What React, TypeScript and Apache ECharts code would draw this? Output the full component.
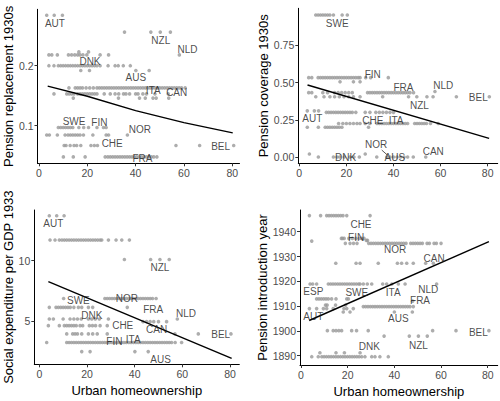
import React, { useEffect, useRef } from 'react';
import * as echarts from 'echarts';

type Row = { y: number; x: number[] };
type Lab = [string, number, number];

const xTicks = [0, 20, 40, 60, 80];
const xTitle = 'Urban homeownership';

// ---------- Panel 1: Pension replacement 1930s ----------
const replacementTicks = [0.1, 0.2];
const replacementRows: Row[] = [
  { y: 0.284, x: [3.2, 6.3, 9.7] },
  { y: 0.256, x: [35.4, 46.3, 50.2, 54.4] },
  { y: 0.218, x: [4.1, 5.3, 7.6, 12.2, 13.5, 14.8, 16, 17, 18.2, 19.8, 25.3, 28.8, 58.1] },
  { y: 0.223, x: [16.5, 20.5] },
  { y: 0.2, x: [4.1, 6.2, 8, 9, 10, 11, 12, 13, 14, 15, 16, 17, 18, 19, 20, 21, 22, 23, 24, 25.3, 28.6, 31.5, 32.8, 34.9, 37.8] },
  { y: 0.192, x: [17.3, 20.9, 40.1, 45.6] },
  { y: 0.163, x: [12.4, 15, 16, 17, 18, 19.5, 21, 22.5, 24, 25, 26, 27, 28, 29, 30, 31, 32, 33, 34, 35, 36, 37, 38, 39, 40, 41, 42, 43, 44, 45, 46, 47, 48, 49, 50, 51, 52, 53, 54, 55, 56, 57, 58, 59, 60.5] },
  { y: 0.153, x: [6.2, 11.5, 12.5, 13.5, 14.5, 16, 17, 18, 19, 20, 21, 22, 23, 24, 27, 29.5, 31.5, 33, 35, 36, 37.5, 40, 41, 43, 44.5, 48, 53.5] },
  { y: 0.146, x: [14.2, 32.9, 41.6, 44, 47.2, 48.5, 53.7] },
  { y: 0.097, x: [8, 9, 10, 11, 12, 13, 14, 16.5, 18.5, 20.5, 24, 26.7, 27.8] },
  { y: 0.0845, x: [3.2, 4.3, 7.6, 10.8, 12, 13, 14, 15, 16, 17, 18.4, 22.3, 27.8, 28.8, 36.6] },
  { y: 0.067, x: [10.4, 11.2, 12.9, 14.5, 15.6, 17.3, 21.5, 22.9, 24.2, 56.7, 66.5, 80.6] },
  { y: 0.048, x: [10.1, 14.2, 19.1, 27.4, 28.5, 29.5, 30.5, 31.5, 32.5, 33.5, 34.5, 35.5, 36.5, 37.5, 38.5, 39.5, 40.5, 41.5, 42.5, 43.5, 44.5, 45.5, 46.5, 47.5, 48.8] },
];
const replacementLabels: Lab[] = [
  ['AUT', 6.6, 0.271], ['NZL', 50.4, 0.242], ['NLD', 61.5, 0.227], ['DNK', 21.1, 0.207],
  ['AUS', 40.1, 0.181], ['ITA', 47.3, 0.158], ['CAN', 57, 0.156], ['SWE', 14.5, 0.107],
  ['FIN', 25, 0.105], ['NOR', 41.8, 0.094], ['CHE', 30.3, 0.071], ['BEL', 75.2, 0.066],
  ['FRA', 42.8, 0.046],
];
const replacementFit: [number, number][] = [[3.6, 0.166], [20, 0.149], [40, 0.125], [60, 0.105], [80.2, 0.088]];

// ---------- Panel 2: Pension coverage 1930s ----------
const coverageTicks = [0, 0.25, 0.5, 0.75];
const coverageRows: Row[] = [
  { y: 0.954, x: [7, 8, 9, 10, 11, 12, 13, 14.5, 18.2, 20.4] },
  { y: 0.533, x: [4, 5.3, 8, 9, 10, 11, 12, 13, 14, 15, 16, 17, 18, 19, 20, 21, 22, 23, 24, 25, 25.8, 28.2, 30.3, 37.8] },
  { y: 0.505, x: [17.3, 23, 25.8] },
  { y: 0.44, x: [57.6] },
  { y: 0.432, x: [4, 5.3, 10, 12, 15, 16.5, 18, 19.5, 21, 22.5, 29, 30, 31, 32, 33, 34, 35, 36, 37, 38, 39, 40, 41, 42, 43, 44, 45, 46, 47, 48.5] },
  { y: 0.405, x: [7, 10.5, 13, 15, 17, 19, 21, 23, 25.8, 35.4, 46.4, 49.9, 54.2, 56.8, 66.7, 80.7] },
  { y: 0.31, x: [3.4, 6.4, 8.2] },
  { y: 0.3, x: [11.5, 12.5, 13.5, 14.5, 15.5, 16.5, 17.5, 18.5, 19.5, 20.5, 21.5, 22.5, 24, 28, 30, 32.5, 34, 35.5, 37, 38.5, 40] },
  { y: 0.225, x: [16.7, 18.5, 20, 21.5, 23, 24.5, 25.8, 28, 30, 33, 34, 35, 36, 37, 38, 39, 40, 41, 42, 43, 44, 45, 46, 49, 50, 51, 52, 53, 54, 55.7, 59] },
  { y: 0.2, x: [3.4, 8.1, 11, 12, 13, 14, 15, 16, 17, 18.1, 29.4] },
  { y: 0.02, x: [4.3, 28] },
  { y: 0.0, x: [8.1, 14.5, 16, 17.1, 19.1, 21.5, 23.2, 25.5, 32.9, 37.1, 38.5, 40, 41.5, 43, 44.5, 46, 48.4, 53.7] },
];
const coverageLabels: Lab[] = [
  ['SWE', 16.1, 0.898], ['FIN', 31.2, 0.551], ['FRA', 44.2, 0.468], ['NLD', 61.1, 0.477],
  ['BEL', 76, 0.398], ['NZL', 51, 0.349], ['AUT', 5.5, 0.26], ['CHE', 31.2, 0.244],
  ['ITA', 41.1, 0.244], ['NOR', 32.6, 0.081], ['CAN', 56.9, 0.036], ['DNK', 19.7, -0.005],
  ['AUS', 40.6, -0.005],
];
const coverageFit: [number, number][] = [[3.5, 0.4836], [80.6, 0.1256]];
const coverageLeader: [number, number][] = [[35, 0.047], [37.4, 0.013]];

// ---------- Panel 3: Social expenditure per GDP 1933 ----------
const socialTicks = [5, 10];
const socialRows: Row[] = [
  { y: 13.71, x: [4.2, 7.3, 10.4] },
  { y: 11.7, x: [4.5, 6.6, 8.4, 9.5, 10.5, 11.5, 12.5, 13.5, 14.5, 15.5, 16.5, 17.5, 18.5, 19.5, 20.5, 21.5, 22.5, 23.5, 24.5, 25.5, 26.2, 29, 32.2, 34.6, 37.8] },
  { y: 10.1, x: [35.7, 46.7, 50.6, 54.5] },
  { y: 6.88, x: [10.2, 27.5, 28.5, 29.5, 30.5, 31.5, 32.5, 33.5, 34.5, 35.5, 36.5, 37.5, 38.5, 39.5, 40.5, 41.5, 42.5, 43.5, 44.5, 45.5, 46.5, 47.5, 49] },
  { y: 6.15, x: [4.2, 7, 8, 9, 10, 11, 12, 13, 14.5, 16.4, 17.8, 20.6, 22.4, 36.9] },
  { y: 5.19, x: [4.2, 5.9, 10, 12.9, 14.5, 16, 17.6, 20.6, 22, 23.5, 25.2, 29, 57.9] },
  { y: 4.97, x: [43.5, 45, 46.5, 48, 50, 53.4] },
  { y: 4.64, x: [3.8, 8.4, 10.5, 11.5, 12.5, 13.5, 14.5, 15.5, 17.1, 18.2, 21, 22.3, 23.6, 25.5, 28.5] },
  { y: 3.96, x: [11.5, 14, 15, 16, 17.8, 20.6, 22.4, 24.3, 28.5, 56.9, 66.7, 80.4] },
  { y: 3.25, x: [3.1, 11.5, 12.5, 13.5, 14.5, 15.5, 16.5, 17.5, 18.5, 19.5, 20.5, 21.5, 22.5, 23.5, 24.5, 25.5, 26.5, 27.5, 28.5, 29.5, 30.5, 31.5, 32.5, 33.5, 34.5, 35.5, 36.5, 37.5, 38.5, 39.5, 40.5, 41.5, 42.5, 43.5, 44.5, 45.5, 46.5, 47.5, 48.5, 49.5, 50.5, 51.5, 52.5, 53.5, 54.5, 55.5, 57, 59.7] },
  { y: 2.5, x: [17.8, 21.3, 40.1, 45.7] },
];
const socialLabels: Lab[] = [
  ['AUT', 5.9, 13.03], ['NZL', 50.6, 9.42], ['SWE', 16.4, 6.7], ['NOR', 36.7, 6.9],
  ['FRA', 47.8, 5.99], ['NLD', 61.5, 5.66], ['DNK', 22, 5.46], ['CHE', 35, 4.69],
  ['CAN', 49.2, 4.28], ['BEL', 76.1, 3.87], ['ITA', 39.4, 3.51], ['FIN', 31.5, 3.32],
  ['AUS', 50.9, 1.81],
];
const socialFit: [number, number][] = [[3.8, 8.27], [80.7, 1.94]];

// ---------- Panel 4: Pension introduction year ----------
const yearTicks = [1890, 1900, 1910, 1920, 1930, 1940];
const yearRows: Row[] = [
  { y: 1946.5, x: [3.6, 8.4, 11, 12, 13, 14, 15, 16, 17, 18, 19.6, 29.6] },
  { y: 1936.2, x: [4.6] },
  { y: 1937.3, x: [17.3, 17.8, 18.5, 20.5, 22, 23.5, 25, 26, 27] },
  { y: 1936.5, x: [28, 28.5] },
  { y: 1935.3, x: [19, 21, 22.5, 24, 29, 30, 31, 32, 33, 34, 35, 36, 37, 38, 39, 40, 41, 42, 43, 44, 45, 47, 48, 49, 50, 51, 52, 54, 55, 57, 58, 60] },
  { y: 1927.3, x: [14.9, 23.6, 25.3, 33.1, 41.3, 43.1, 45.3, 48.1, 53.4, 56.7] },
  { y: 1918.9, x: [3.9, 5, 6.7, 11.7, 12.7, 13.7, 14.7, 15.7, 16.7, 17.7, 18.7, 19.7, 20.7, 21.7, 22.7, 23.7, 24.7, 25.3, 26.7, 28.4, 30.3, 35, 36.7, 38.9, 41.7, 44.6, 58.1] },
  { y: 1912.9, x: [6.7, 7.7, 8.7, 9.7, 10.7, 11.7, 13.1, 15, 19.6, 20.3] },
  { y: 1912, x: [47.8] },
  { y: 1910.4, x: [10.5, 11.2, 14.8, 19.1] },
  { y: 1909.8, x: [26.7, 27.7, 28.7, 29.7, 30.7, 31.7, 32.7, 33.7, 34.7, 35.7, 36.7, 37.7, 38.7, 39.7, 40.7, 41.7, 42.7, 43.7, 44.7, 45.7, 46.7, 48.1] },
  { y: 1909, x: [3.6, 6.7, 9.6, 11, 13.8, 18.4, 19.6, 22.4] },
  { y: 1907.6, x: [18.1, 21, 40, 47.7] },
  { y: 1900.1, x: [11.3, 13.8, 15, 16.2, 17.4, 21.7, 23.8, 28.8, 56.4, 66.4, 80.5] },
  { y: 1897.9, x: [35.6, 46.4, 50.3, 54.1] },
  { y: 1891.2, x: [8.1, 15, 18.6, 25.3] },
  { y: 1889.6, x: [4.6, 7.4, 8.9, 9.9, 10.9, 11.9, 12.9, 13.9, 14.9, 15.9, 16.9, 17.9, 18.9, 19.9, 20.9, 21.9, 22.9, 23.9, 24.9, 26, 27.4, 30.3, 31.7, 33.8, 37.4] },
];
const yearLabels: Lab[] = [
  ['CHE', 25.7, 1943], ['FIN', 23.6, 1937.6], ['NOR', 40.3, 1932.9], ['CAN', 57, 1929.3],
  ['ESP', 5.3, 1915.8], ['SWE', 23.9, 1915.4], ['ITA', 39.5, 1915.6], ['NLD', 54.5, 1916.5],
  ['FRA', 51, 1912.1], ['AUT', 5.3, 1905.7], ['AUS', 41.7, 1905.1], ['BEL', 76, 1899.4],
  ['DNK', 29.3, 1893.6], ['NZL', 50.3, 1894.3],
];
const yearFit: [number, number][] = [[3.5, 1904.2], [80.5, 1936]];

const FONT = '"Liberation Sans", Arial, Helvetica, sans-serif';

function panelSeries(i: number, rows: Row[], labels: Lab[], fit: [number, number][], extra?: [number, number][]) {
  const pts: [number, number][] = [];
  rows.forEach((r) => r.x.forEach((x) => pts.push([x, r.y])));
  const s: any[] = [
    {
      type: 'scatter', xAxisIndex: i, yAxisIndex: i, data: pts, symbolSize: 3.6,
      itemStyle: { color: '#999999' }, z: 2, silent: true,
    },
    {
      type: 'line', xAxisIndex: i, yAxisIndex: i, data: fit, showSymbol: false,
      lineStyle: { color: '#000', width: 1.4 }, z: 3, silent: true,
    },
    {
      type: 'scatter', xAxisIndex: i, yAxisIndex: i, symbolSize: 1, z: 4, silent: true,
      itemStyle: { color: 'rgba(0,0,0,0)' },
      data: labels.map((l) => ({ name: l[0], value: [l[1], l[2]] })),
      label: {
        show: true, formatter: '{b}', position: [0.5, 0.5], color: '#1a1a1a',
        textBorderWidth: 0,
        fontSize: 10, fontFamily: FONT, align: 'center', verticalAlign: 'middle',
      },
    },
  ];
  if (extra) {
    s.push({
      type: 'line', xAxisIndex: i, yAxisIndex: i, data: extra, showSymbol: false,
      lineStyle: { color: '#333', width: 0.8 }, z: 3, silent: true,
    });
  }
  return s;
}

function xAxisDef(i: number, min: number, max: number, showName: boolean) {
  return {
    type: 'value', gridIndex: i, min, max,
    name: showName ? xTitle : '', nameLocation: 'middle', nameGap: 20,
    nameTextStyle: { fontSize: 13, color: '#000', fontFamily: FONT },
    axisLine: { show: true, onZero: false, lineStyle: { color: '#000', width: 1 } },
    axisTick: { show: true, length: 3, customValues: xTicks, lineStyle: { color: '#333' } },
    axisLabel: { customValues: xTicks, fontSize: 10.5, color: '#4d4d4d', fontFamily: FONT, margin: 4 },
    splitLine: { show: false },
  };
}

function yAxisDef(i: number, min: number, max: number, name: string, gap: number, ticks: number[], fmt: (v: number) => string) {
  return {
    type: 'value', gridIndex: i, min, max,
    name, nameLocation: 'middle', nameGap: gap,
    nameTextStyle: { fontSize: 13, color: '#000', fontFamily: FONT },
    axisLine: { show: true, onZero: false, lineStyle: { color: '#000', width: 1 } },
    axisTick: { show: true, length: 3, customValues: ticks, lineStyle: { color: '#333' } },
    axisLabel: { customValues: ticks, fontSize: 10.5, color: '#4d4d4d', fontFamily: FONT, margin: 4, formatter: (v: number) => fmt(v) },
    splitLine: { show: false },
  };
}

export default function App() {
  const ref = useRef<HTMLDivElement>(null);
  useEffect(() => {
    if (!ref.current) return;
    const chart = echarts.init(ref.current, undefined, { renderer: 'svg' });
    chart.setOption({
      animation: false,
      backgroundColor: '#ffffff',
      grid: [
        { left: 37.5, top: 9.3, width: 202, height: 154 },
        { left: 298.3, top: 8.3, width: 199.4, height: 155 },
        { left: 34.3, top: 210, width: 205, height: 154.3 },
        { left: 300, top: 210, width: 197.7, height: 155 },
      ],
      xAxis: [
        xAxisDef(0, -0.62, 83.0, false),
        xAxisDef(1, -0.42, 84.25, false),
        xAxisDef(2, -2.1, 83.9, true),
        xAxisDef(3, -0.43, 84.27, true),
      ],
      yAxis: [
        yAxisDef(0, 0.0373, 0.294, 'Pension replacement 1930s', 22, replacementTicks, (v) => v.toFixed(1)),
        yAxisDef(1, -0.0423, 0.9987, 'Pension coverage 1930s', 26, coverageTicks, (v) => v.toFixed(2)),
        yAxisDef(2, 1.45, 14.18, 'Social expenditure per GDP 1933', 19, socialTicks, (v) => String(Math.round(v))),
        yAxisDef(3, 1886.25, 1948.75, 'Pension introduction year', 28, yearTicks, (v) => String(Math.round(v))),
      ],
      series: [
        ...panelSeries(0, replacementRows, replacementLabels, replacementFit),
        ...panelSeries(1, coverageRows, coverageLabels, coverageFit, coverageLeader),
        ...panelSeries(2, socialRows, socialLabels, socialFit),
        ...panelSeries(3, yearRows, yearLabels, yearFit),
      ],
    });
    return () => chart.dispose();
  }, []);
  return <div ref={ref} style={{ position: 'fixed', left: 0, top: 0, width: 500, height: 401 }} />;
}
